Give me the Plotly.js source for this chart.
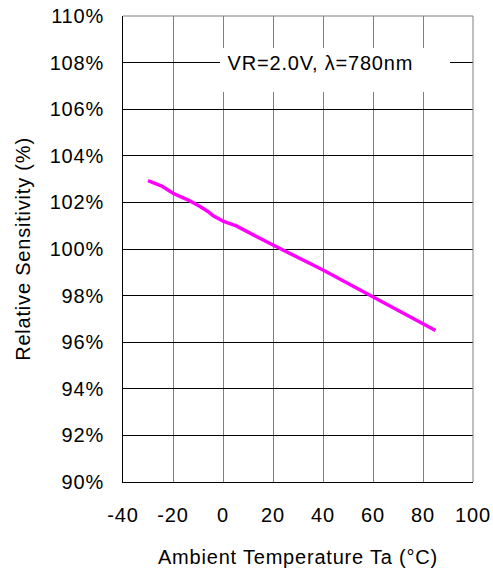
<!DOCTYPE html>
<html>
<head>
<meta charset="utf-8">
<script src="https://cdn.plot.ly/plotly-3.0.1.min.js"></script>
<style>html,body{margin:0;padding:0;background:#fff;}#chart{width:493px;height:571px;}#chart svg text{letter-spacing:0.8px;}</style>
</head>
<body>
<div id="chart"></div>
<script>
// Data
const temperature = [-30, -24.5, -20, -13.9, -9.2, -5.9, -3.9, 0, 5.3, 20, 40, 60, 85];
const sensitivity = [102.93, 102.7, 102.39, 102.1, 101.82, 101.6, 101.42, 101.2, 100.99, 100.17, 99.1, 97.95, 96.5];
const xTicks = [-40, -20, 0, 20, 40, 60, 80, 100];
const yTicks = [90, 92, 94, 96, 98, 100, 102, 104, 106, 108, 110];
const yTickText = yTicks.map(v => v + '%');
const noteText = 'VR=2.0V, \u03bb=780nm';

const font = {family: '"Liberation Sans", Arial, sans-serif', size: 20, color: '#000'};

const trace = {
  x: temperature, y: sensitivity, type: 'scatter', mode: 'lines',
  line: {color: '#ff00ff', width: 3.5}, hoverinfo: 'skip', showlegend: false
};

const layout = {
  width: 493, height: 571,
  margin: {l: 123, r: 20, t: 16, b: 89},
  paper_bgcolor: '#fff', plot_bgcolor: '#fff',
  font: font,
  showlegend: false,
  xaxis: {
    range: [-40, 100], tickvals: xTicks, ticktext: xTicks.map(String),
    showgrid: true, gridcolor: '#808080', gridwidth: 1,
    showline: true, linecolor: '#000', linewidth: 1, zeroline: false,
    ticks: '', ticklabelstandoff: 15, tickfont: font,
    title: {text: 'Ambient Temperature Ta (\u00b0C)', font: font, standoff: 24},
    fixedrange: true
  },
  yaxis: {
    range: [90, 110], tickvals: yTicks, ticktext: yTickText,
    showgrid: true, gridcolor: '#000', gridwidth: 1,
    showline: true, linecolor: '#000', linewidth: 1, zeroline: false,
    ticks: '', ticklabelstandoff: 14, tickfont: font,
    title: {text: 'Relative Sensitivity (%)', font: font, standoff: 16},
    fixedrange: true
  },
  shapes: [
    {type: 'line', xref: 'paper', yref: 'paper', x0: 0, x1: 1, y0: 1, y1: 1, line: {color: '#808080', width: 1}},
    {type: 'line', xref: 'paper', yref: 'paper', x0: 1, x1: 1, y0: 0, y1: 1, line: {color: '#808080', width: 1}},
    {type: 'rect', xref: 'x', yref: 'y', x0: -1.2, x1: 90.8, y0: 106.74, y1: 108.63, fillcolor: '#fff', line: {width: 0}, layer: 'above'}
  ],
  annotations: [
    {text: noteText, xref: 'x', yref: 'y', x: 3.7, y: 107.98, xanchor: 'left', yanchor: 'middle', showarrow: false, font: font}
  ]
};

Plotly.newPlot('chart', [trace], layout, {displayModeBar: false, staticPlot: true});
</script>
</body>
</html>
